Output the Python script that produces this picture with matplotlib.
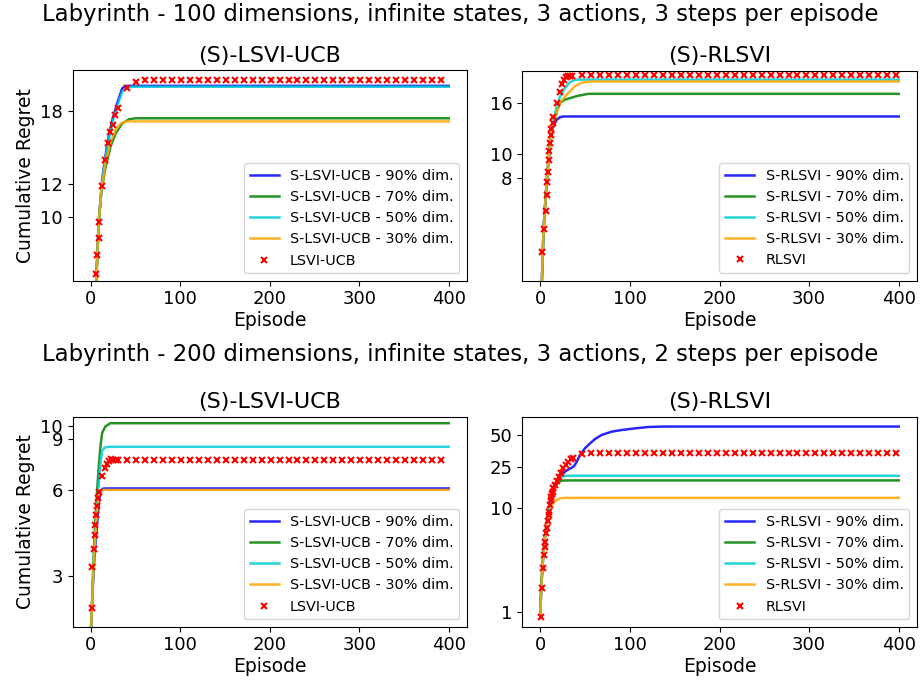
import numpy as np
import matplotlib
matplotlib.use('Agg')
import matplotlib.pyplot as plt
from matplotlib.ticker import FixedLocator, NullLocator, FixedFormatter

# ---- data (episode, cumulative regret) ----
# top row: 100 dims, 3 steps/episode
tl_blue_x = [6.3, 9.2, 12.9, 18.5, 24.1, 29.7, 35.2, 39, 400]
tl_blue_y = [7.05, 9.85, 12.3, 15.0, 17.1, 18.8, 20.4, 20.7, 20.7]
tl_green_x = [6.3, 9.2, 12.2, 16.7, 22.3, 27.9, 35.2, 42.7, 50, 400]
tl_green_y = [7.05, 9.8, 11.6, 13.2, 14.8, 15.9, 16.8, 17.2, 17.3, 17.3]
tl_cyan_x = [6.3, 9.2, 12.9, 18.5, 24.1, 29.7, 35.2, 41, 400]
tl_cyan_y = [7.05, 9.8, 12.2, 14.8, 16.8, 18.5, 20.0, 20.6, 20.6]
tl_orange_x = [6.3, 9.2, 12.2, 16.7, 22.3, 27.9, 33.4, 39, 44, 400]
tl_orange_y = [7.05, 9.8, 11.7, 13.5, 15.2, 16.2, 16.8, 17.0, 17.0, 17.0]
tl_base_x = [6.3, 7.4, 8.9, 9.6, 12.6, 15.9, 18.9, 21.5, 24.5, 27.1, 30.4] + list(range(41, 400, 10))
tl_base_y = [7.31, 8.12, 8.9, 9.73, 11.86, 13.7, 15.1, 16.0, 16.7, 17.6, 18.3, 20.5, 21.1] + [21.4] * 34

tr_blue_x = [1.9, 3.7, 5.6, 7.4, 9.3, 11.1, 13, 14.8, 18.5, 22, 26, 400]
tr_blue_y = [3.1, 4.94, 6.33, 7.86, 9.46, 11.0, 12.3, 12.9, 13.7, 14.0, 14.1, 14.1]
tr_green_x = [1.9, 3.7, 5.6, 7.4, 9.3, 11.1, 13, 14.8, 18.5, 22.2, 27.8, 35.2, 42.6, 53.7, 400]
tr_green_y = [3.1, 4.94, 6.33, 7.86, 9.46, 11.0, 12.3, 13.1, 14.8, 16.0, 16.5, 16.8, 17.1, 17.4, 17.4]
tr_cyan_x = [1.9, 3.7, 5.6, 7.4, 9.3, 11.1, 13, 14.8, 18.5, 22.2, 27.8, 33.3, 38.9, 42, 400]
tr_cyan_y = [3.1, 4.94, 6.33, 7.86, 9.46, 11.0, 12.3, 13.7, 15.5, 17.0, 18.4, 19.4, 19.8, 19.85, 19.85]
tr_orange_x = [1.9, 3.7, 5.6, 7.4, 9.3, 11.1, 13, 14.8, 18.5, 22.2, 27.8, 33.3, 38.9, 46.3, 57.4, 400]
tr_orange_y = [3.1, 4.94, 6.33, 7.86, 9.46, 11.0, 12.3, 13.2, 14.8, 16.0, 17.0, 17.8, 18.7, 19.3, 19.5, 19.5]
tr_base_x = [2.5, 4.4, 5.9, 7.0, 7.8, 8.5, 9.3, 10, 10.7, 11.5, 12.2, 13.7, 14.8, 18.9, 21.9,
             24.1, 26.3, 28.5, 30.7, 33.3, 35.9] + list(range(47, 400, 10))
tr_base_y = [4.03, 4.98, 5.85, 6.83, 7.69, 8.4, 9.4, 10.2, 11.0, 11.9, 12.6, 13.3, 14.0, 16.0, 17.7,
             19.0, 19.8, 20.4, 20.5, 20.6, 20.6] + [20.7] * 36

# bottom row: 200 dims, 2 steps/episode
bl_blue_x = [0.5, 1.1, 2.6, 4.0, 5.6, 7.4, 9.2, 11.1, 13.7, 18, 400]
bl_blue_y = [2.0, 2.2, 2.79, 3.36, 3.94, 4.63, 5.43, 5.89, 6.06, 6.07, 6.07]
bl_green_x = [0.5, 1.1, 2.6, 4.0, 5.6, 7.4, 9.2, 11.1, 12.9, 16.7, 22.3, 400]
bl_green_y = [2.0, 2.2, 3.02, 3.94, 4.88, 6.05, 7.3, 8.56, 9.5, 10.0, 10.25, 10.25]
bl_cyan_x = [0.5, 1.1, 2.6, 4.0, 5.6, 7.4, 9.2, 11.1, 12.9, 15.9, 20, 400]
bl_cyan_y = [2.0, 2.2, 2.86, 3.55, 4.27, 5.30, 6.39, 7.49, 8.22, 8.43, 8.48, 8.48]
bl_orange_x = [0.5, 1.1, 2.6, 4.0, 5.6, 7.4, 9.2, 11.1, 14, 400]
bl_orange_y = [2.0, 2.2, 2.86, 3.55, 4.27, 5.15, 5.73, 5.96, 6.0, 6.0]
bl_base_x = [1.5, 2.0, 3.7, 4.4, 5.2, 5.9, 6.7, 7.8, 9.2, 12.6, 15.9, 17.8, 20.4, 23, 25.2, 27.9,
             30.4] + list(range(41, 400, 10))
bl_base_y = [2.33, 3.23, 3.72, 4.17, 4.54, 4.91, 5.27, 5.63, 5.91, 6.72, 7.15, 7.38, 7.58, 7.66,
             7.64, 7.64, 7.64] + [7.64] * 36

br_blue_x = [0, 1.1, 2.6, 4.1, 5.6, 7.4, 9.3, 11.1, 13, 14.8, 16.7, 20.4, 24.1, 27.8, 31.5, 35.2,
             38.1, 40.7, 44.4, 50, 55.6, 61.1, 68.5, 79.6, 90.7, 105.6, 120.4, 139, 400]
br_blue_y = [0.94, 1.69, 2.83, 4.1, 5.5, 7.39, 9.2, 11.1, 12.8, 14.6, 16.0, 18.6, 20.8, 22.4, 23.5,
             24.4, 25.5, 27.8, 32.3, 37.6, 41.8, 46.0, 50.4, 54.2, 56.2, 58.3, 60.1, 60.7, 60.7]
br_green_x = [0, 1.1, 2.6, 4.1, 5.6, 7.4, 9.3, 11.1, 13, 14.8, 16.7, 20.4, 24.1, 30, 400]
br_green_y = [0.94, 1.69, 2.83, 4.1, 5.5, 7.39, 9.2, 11.1, 12.8, 14.6, 16.0, 17.9, 18.3, 18.4, 18.4]
br_cyan_x = [0, 1.1, 2.6, 4.1, 5.6, 7.4, 9.3, 11.1, 13, 14.8, 16.7, 20.4, 24.1, 29, 400]
br_cyan_y = [0.94, 1.69, 2.83, 4.1, 5.5, 7.39, 9.2, 11.1, 12.8, 14.6, 16.2, 19.1, 20.0, 20.4, 20.4]
br_orange_x = [0, 1.1, 2.6, 4.1, 5.6, 7.4, 9.3, 11.1, 13, 16.7, 22.2, 28, 400]
br_orange_y = [0.94, 1.69, 2.83, 4.1, 5.5, 7.12, 8.6, 9.56, 10.7, 11.7, 12.4, 12.5, 12.5]
br_base_x = [1.1, 1.9, 2.6, 3.7, 4.8, 5.6, 6.7, 7.8, 8.5, 9.3, 10, 10.7, 11.5, 12.2, 13, 13.7,
             14.8, 16.7, 18.5, 20.4, 23.3, 25.9, 28.9, 31.5, 34.1, 37] + list(range(47, 400, 10))
br_base_y = [0.90, 1.69, 2.63, 3.53, 4.25, 4.74, 5.7, 6.46, 7.5, 8.6, 9.2, 10.7, 11.9, 12.8, 13.5,
             14.3, 15.5, 16.6, 18.2, 20.0, 21.6, 24.0, 25.9, 27.8, 29.4, 30.5, 32.9] + [33.6] * 35

pcts = ['90%', '70%', '50%', '30%']
colors = ['blue', 'green', 'darkturquoise', 'orange']

tl_ticks = [10, 12, 18]
tr_ticks = [8, 10, 16]
bl_ticks = [3, 6, 9, 10]
br_ticks = [1, 10, 25, 50]

W, H = 921, 687
fig = plt.figure(figsize=(W / 100, H / 100), dpi=100)


def px_axes(l, t, r, b):
    return fig.add_axes([l / W, 1 - b / H, (r - l) / W, (b - t) / H])


def panel(ax, series, base, name, ticks, ylim, ylabel):
    for (x, y), p, c in zip(series, pcts, colors):
        ax.plot(x, y, color=c, lw=1.8, alpha=0.85, label=f'S-{name} - {p} dim.')
    ax.plot(base[0], base[1], 'x', color='red', ms=4.5, mew=1.5, label=name)
    ax.set_yscale('log')
    ax.set_ylim(*ylim)
    ax.set_xlim(-20, 420)
    ax.yaxis.set_major_locator(FixedLocator(ticks))
    ax.yaxis.set_major_formatter(FixedFormatter([str(t) for t in ticks]))
    ax.yaxis.set_minor_locator(NullLocator())
    ax.set_xticks([0, 100, 200, 300, 400])
    ax.tick_params(labelsize=13)
    ax.set_xlabel('Episode', fontsize=13.5, labelpad=2)
    if ylabel:
        ax.set_ylabel('Cumulative Regret', fontsize=13.5)
    ax.legend(loc='lower right', fontsize=10.4)


ax1 = px_axes(72.7, 70, 466.7, 280.7)
panel(ax1, [(tl_blue_x, tl_blue_y), (tl_green_x, tl_green_y), (tl_cyan_x, tl_cyan_y),
            (tl_orange_x, tl_orange_y)], (tl_base_x, tl_base_y), 'LSVI-UCB', tl_ticks, (7.04, 22.6), True)
ax1.set_title('(S)-LSVI-UCB', fontsize=16)

ax2 = px_axes(522.3, 70.5, 916.7, 280.5)
panel(ax2, [(tr_blue_x, tr_blue_y), (tr_green_x, tr_green_y), (tr_cyan_x, tr_cyan_y),
            (tr_orange_x, tr_orange_y)], (tr_base_x, tr_base_y), 'RLSVI', tr_ticks, (3.08, 21.6), False)
ax2.set_title('(S)-RLSVI', fontsize=16)

ax3 = px_axes(72.7, 416.7, 466.7, 626.7)
panel(ax3, [(bl_blue_x, bl_blue_y), (bl_green_x, bl_green_y), (bl_cyan_x, bl_cyan_y),
            (bl_orange_x, bl_orange_y)], (bl_base_x, bl_base_y), 'LSVI-UCB', bl_ticks, (2.0, 10.8), True)
ax3.set_title('(S)-LSVI-UCB', fontsize=16)

ax4 = px_axes(522.3, 416.7, 916.7, 626.7)
panel(ax4, [(br_blue_x, br_blue_y), (br_green_x, br_green_y), (br_cyan_x, br_cyan_y),
            (br_orange_x, br_orange_y)], (br_base_x, br_base_y), 'RLSVI', br_ticks, (0.72, 75.5), False)
ax4.set_title('(S)-RLSVI', fontsize=16)

fig.text(0.5, 1 - 14 / H, 'Labyrinth - 100 dimensions, infinite states, 3 actions, 3 steps per episode',
         ha='center', va='center', fontsize=16.4)
fig.text(0.5, 1 - 354 / H, 'Labyrinth - 200 dimensions, infinite states, 3 actions, 2 steps per episode',
         ha='center', va='center', fontsize=16.4)

fig.savefig('out.png', dpi=100)
